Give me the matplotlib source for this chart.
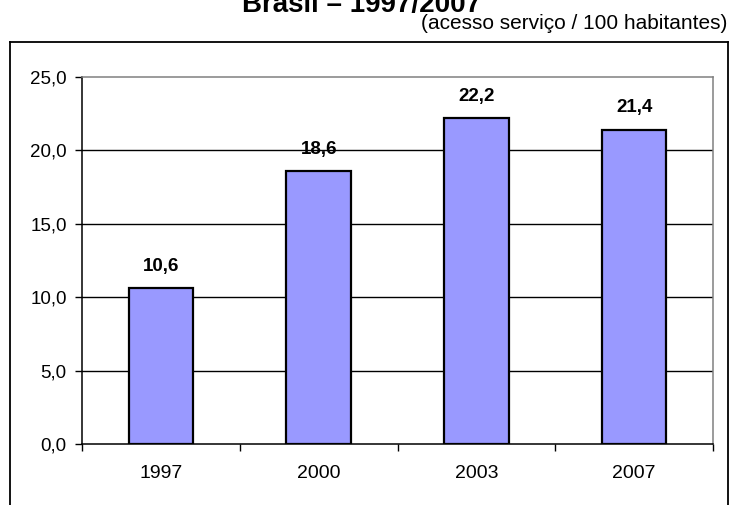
import matplotlib.pyplot as plt
from matplotlib.lines import Line2D

plt.rcParams['font.family'] = ['Liberation Sans', 'DejaVu Sans']

## data
anos = ['1997', '2000', '2003', '2007']
acessos = [10.6, 18.6, 22.2, 21.4]
yticks = [0, 5, 10, 15, 20, 25]

fig = plt.figure(figsize=(7.3, 5.05), dpi=100)

## outer chart frame (bottom edge falls outside the image)
W, H = 730.0, 505.0
fx0, fx1, fy1 = 9.5 / W, 727.5 / W, 1 - 41.5 / H
for xs, ys in [([fx0, fx0], [-0.1, fy1]), ([fx0, fx1], [fy1, fy1]), ([fx1, fx1], [fy1, -0.1])]:
    fig.add_artist(Line2D(xs, ys, color='black', lw=1.3, transform=fig.transFigure))

## titles (main title sits mostly above the top edge)
fig.text(362 / W, 1 - 12 / H, 'Brasil – 1997/2007', ha='center', va='baseline',
         fontsize=20, fontweight='bold')
fig.text(727 / W, 1 - 29 / H, '(acesso serviço / 100 habitantes)', ha='right',
         va='baseline', fontsize=15)

ax = fig.add_axes([82 / W, 1 - 444 / H, (713 - 82) / W, (444 - 77) / H])
x = list(range(len(anos)))
ax.bar(x, acessos, width=0.41, color='#9999FF', edgecolor='black', linewidth=1.6, zorder=3)

for xi, v in zip(x, acessos):
    ax.annotate(('%.1f' % v).replace('.', ','), (xi, v), xytext=(0, 12.5),
                textcoords='offset points', ha='center', va='baseline',
                fontsize=13.5, fontweight='bold')

ax.set_xlim(-0.5, len(anos) - 0.5)
ax.set_ylim(0, 25)
ax.set_yticks(yticks)
ax.set_yticklabels([('%.1f' % t).replace('.', ',') for t in yticks], fontsize=13.5)
for t in yticks[1:-1]:
    ax.axhline(t, color='black', lw=1, zorder=1)

ax.set_xticks(x)
ax.set_xticklabels(anos, fontsize=14)
ax.set_xticks([i - 0.5 for i in range(len(anos) + 1)], minor=True)
ax.tick_params(axis='x', which='major', length=0, pad=15)
ax.tick_params(axis='x', which='minor', length=5, width=1, direction='out')
ax.tick_params(axis='y', length=5, width=1, direction='out', pad=6)

ax.spines['left'].set_color('black')
ax.spines['bottom'].set_color('black')
ax.spines['top'].set_color('#808080')
ax.spines['right'].set_color('#808080')
for s in ax.spines.values():
    s.set_linewidth(1.1)

fig.savefig('out.png', dpi=100)
